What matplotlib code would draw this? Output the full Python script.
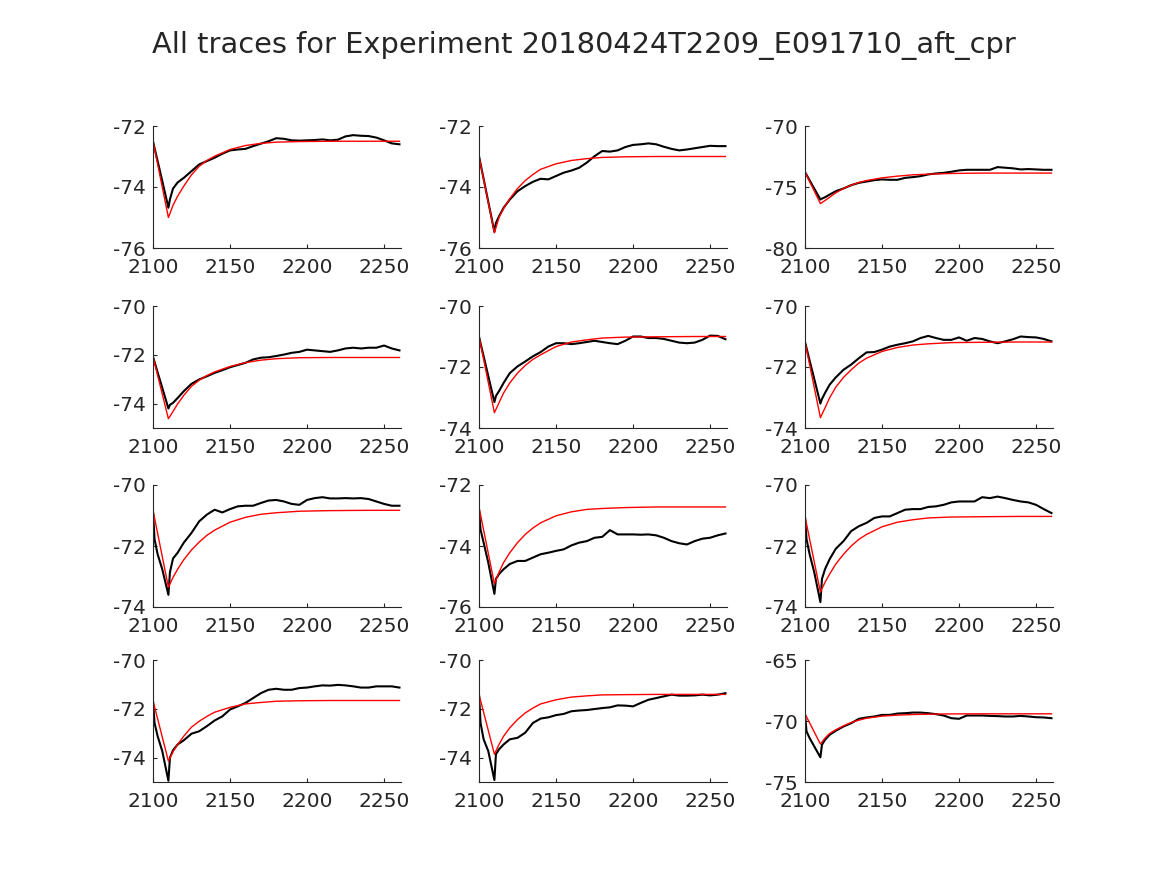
import matplotlib
matplotlib.use("Agg")
import matplotlib.pyplot as plt

plt.rcParams['font.family'] = ['DejaVu Sans']
plt.rcParams['axes.unicode_minus'] = False

TITLE = "All traces for Experiment 20180424T2209_E091710_aft_cpr"

# sample times for the recorded (black) traces
XB = [2100, 2101, 2103, 2106, 2110, 2111, 2113, 2116, 2120, 2125, 2130, 2135, 2140,
      2145, 2150, 2155, 2160, 2165, 2170, 2175, 2180, 2185, 2190, 2195, 2200, 2205,
      2210, 2215, 2220, 2225, 2230, 2235, 2240, 2245, 2250, 2255, 2260]
# sample times for the fitted (red) curves
XR = [2100, 2110, 2113, 2116, 2120, 2125, 2130, 2135, 2140, 2150, 2160, 2170, 2180,
      2195, 2215, 2240, 2260]

trace_1 = [-72.5, -72.72, -73.15, -73.8, -74.68, -74.4, -74.05, -73.85, -73.7, -73.48, -73.26, -73.15, -73.04,
           -72.91, -72.8, -72.77, -72.75, -72.66, -72.58, -72.5, -72.4, -72.42, -72.47, -72.48, -72.47, -72.46,
           -72.44, -72.47, -72.45, -72.34, -72.3, -72.32, -72.33, -72.38, -72.47, -72.57, -72.6]
fit_1 = [-72.5, -75.0, -74.6, -74.3, -73.97, -73.6, -73.32, -73.13, -72.99, -72.77, -72.64, -72.57, -72.53,
         -72.51, -72.5, -72.5, -72.5]

trace_2 = [-72.99, -73.24, -73.73, -74.48, -75.47, -75.18, -74.96, -74.68, -74.41, -74.14, -73.97, -73.83, -73.73,
           -73.75, -73.64, -73.53, -73.46, -73.37, -73.2, -72.99, -72.82, -72.84, -72.8, -72.69, -72.62, -72.6,
           -72.57, -72.6, -72.68, -72.75, -72.8, -72.77, -72.73, -72.69, -72.65, -72.66, -72.66]
fit_2 = [-73.0, -75.5, -75.0, -74.7, -74.38, -74.05, -73.79, -73.59, -73.42, -73.24, -73.13, -73.07, -73.03,
         -73.01, -73.0, -73.0, -73.0]

trace_3 = [-73.78, -74.0, -74.46, -75.13, -76.03, -75.95, -75.84, -75.62, -75.34, -75.12, -74.85, -74.66, -74.55,
           -74.44, -74.38, -74.41, -74.41, -74.25, -74.19, -74.11, -73.97, -73.89, -73.84, -73.75, -73.64, -73.59,
           -73.59, -73.59, -73.59, -73.37, -73.42, -73.47, -73.56, -73.53, -73.56, -73.59, -73.59]
fit_3 = [-73.78, -76.36, -76.11, -75.84, -75.48, -75.12, -74.85, -74.63, -74.47, -74.25, -74.11, -74.0, -73.95,
         -73.89, -73.86, -73.86, -73.86]

trace_4 = [-72.08, -72.29, -72.72, -73.35, -74.2, -74.05, -73.97, -73.77, -73.49, -73.19, -73.01, -72.88, -72.74,
           -72.63, -72.51, -72.42, -72.33, -72.19, -72.12, -72.1, -72.05, -71.99, -71.92, -71.88, -71.79, -71.82,
           -71.85, -71.88, -71.82, -71.74, -71.71, -71.74, -71.71, -71.71, -71.62, -71.74, -71.82]
fit_4 = [-72.08, -74.62, -74.32, -74.01, -73.66, -73.29, -73.04, -72.85, -72.7, -72.48, -72.32, -72.22, -72.16,
         -72.12, -72.11, -72.11, -72.11]

trace_5 = [-71.0, -71.22, -71.65, -72.29, -73.15, -72.95, -72.79, -72.52, -72.2, -71.98, -71.82, -71.65, -71.51,
           -71.33, -71.22, -71.22, -71.25, -71.22, -71.18, -71.14, -71.18, -71.22, -71.25, -71.14, -71.0, -71.0,
           -71.05, -71.05, -71.08, -71.14, -71.2, -71.22, -71.2, -71.11, -70.97, -70.98, -71.09]
fit_5 = [-71.0, -73.5, -73.17, -72.85, -72.52, -72.2, -71.95, -71.75, -71.6, -71.33, -71.18, -71.11, -71.05,
         -71.02, -71.01, -71.0, -71.0]

trace_6 = [-71.18, -71.38, -71.79, -72.39, -73.2, -73.05, -72.85, -72.58, -72.34, -72.09, -71.92, -71.71, -71.52,
           -71.51, -71.43, -71.33, -71.27, -71.22, -71.16, -71.05, -70.98, -71.05, -71.11, -71.11, -71.03, -71.14,
           -71.05, -71.08, -71.16, -71.22, -71.16, -71.09, -71.0, -71.02, -71.03, -71.08, -71.16]
fit_6 = [-71.18, -73.66, -73.34, -73.01, -72.66, -72.34, -72.09, -71.87, -71.71, -71.49, -71.36, -71.28, -71.24,
         -71.2, -71.19, -71.18, -71.18]

trace_7 = [-70.86, -71.78, -72.27, -72.76, -73.6, -72.86, -72.41, -72.22, -71.89, -71.57, -71.19, -70.97, -70.81,
           -70.9, -70.79, -70.7, -70.68, -70.68, -70.59, -70.51, -70.49, -70.54, -70.62, -70.65, -70.49, -70.43,
           -70.4, -70.44, -70.44, -70.43, -70.44, -70.43, -70.46, -70.54, -70.62, -70.68, -70.68]
fit_7 = [-70.83, -73.35, -73.03, -72.76, -72.45, -72.13, -71.87, -71.65, -71.48, -71.22, -71.06, -70.96, -70.91,
         -70.86, -70.84, -70.83, -70.83]

trace_8 = [-72.81, -73.46, -73.89, -74.54, -75.57, -75.08, -74.92, -74.76, -74.59, -74.49, -74.49, -74.38, -74.27,
           -74.22, -74.16, -74.11, -73.98, -73.89, -73.84, -73.73, -73.7, -73.48, -73.62, -73.62, -73.62, -73.63,
           -73.62, -73.65, -73.73, -73.84, -73.91, -73.95, -73.84, -73.76, -73.73, -73.65, -73.59]
fit_8 = [-72.72, -75.24, -74.86, -74.54, -74.22, -73.89, -73.62, -73.41, -73.24, -73.01, -72.88, -72.8, -72.77,
         -72.74, -72.72, -72.72, -72.72]

trace_9 = [-71.03, -71.78, -72.27, -72.86, -73.84, -73.08, -72.76, -72.43, -72.09, -71.84, -71.51, -71.35, -71.24,
           -71.08, -71.03, -71.03, -70.92, -70.81, -70.79, -70.79, -70.72, -70.7, -70.65, -70.57, -70.54, -70.54,
           -70.54, -70.4, -70.43, -70.38, -70.43, -70.49, -70.54, -70.57, -70.65, -70.79, -70.92]
fit_9 = [-71.03, -73.51, -73.19, -72.92, -72.59, -72.27, -72.0, -71.78, -71.62, -71.37, -71.22, -71.14, -71.08,
         -71.05, -71.04, -71.03, -71.03]

trace_10 = [-71.69, -72.58, -73.12, -73.73, -74.95, -74.0, -73.7, -73.46, -73.29, -73.02, -72.92, -72.71, -72.48,
            -72.31, -72.03, -71.9, -71.76, -71.56, -71.36, -71.22, -71.18, -71.22, -71.22, -71.15, -71.13, -71.08,
            -71.04, -71.05, -71.02, -71.04, -71.08, -71.13, -71.13, -71.08, -71.08, -71.08, -71.13]
fit_10 = [-71.67, -74.14, -73.76, -73.46, -73.12, -72.75, -72.51, -72.31, -72.14, -71.94, -71.8, -71.74, -71.69,
          -71.67, -71.66, -71.66, -71.66]

trace_11 = [-71.42, -72.58, -73.25, -73.73, -74.92, -73.86, -73.66, -73.46, -73.25, -73.19, -72.98, -72.58, -72.4,
            -72.35, -72.26, -72.21, -72.1, -72.07, -72.05, -72.01, -71.97, -71.94, -71.86, -71.87, -71.9, -71.76,
            -71.63, -71.56, -71.49, -71.42, -71.46, -71.46, -71.45, -71.42, -71.45, -71.42, -71.36]
fit_11 = [-71.41, -73.86, -73.46, -73.12, -72.78, -72.44, -72.17, -71.97, -71.8, -71.63, -71.52, -71.47, -71.43,
          -71.42, -71.41, -71.41, -71.41]

trace_12 = [-69.5, -70.86, -71.4, -72.08, -72.98, -71.95, -71.54, -71.13, -70.8, -70.45, -70.18, -69.82, -69.71,
            -69.63, -69.5, -69.5, -69.39, -69.36, -69.31, -69.31, -69.36, -69.44, -69.55, -69.77, -69.82, -69.55,
            -69.55, -69.55, -69.58, -69.6, -69.63, -69.63, -69.58, -69.63, -69.69, -69.71, -69.77]
fit_12 = [-69.41, -71.89, -71.4, -71.02, -70.72, -70.4, -70.12, -69.93, -69.77, -69.6, -69.52, -69.47, -69.44,
          -69.42, -69.41, -69.41, -69.41]

traces = [trace_1, trace_2, trace_3, trace_4, trace_5, trace_6,
          trace_7, trace_8, trace_9, trace_10, trace_11, trace_12]
fits = [fit_1, fit_2, fit_3, fit_4, fit_5, fit_6,
        fit_7, fit_8, fit_9, fit_10, fit_11, fit_12]

y_limits = [(-76, -72), (-76, -72), (-80, -70),
            (-75, -70), (-74, -70), (-74, -70),
            (-74, -70), (-76, -72), (-74, -70),
            (-75, -70), (-75, -70), (-75, -65)]
y_ticks = [[-76, -74, -72], [-76, -74, -72], [-80, -75, -70],
           [-74, -72, -70], [-74, -72, -70], [-74, -72, -70],
           [-74, -72, -70], [-76, -74, -72], [-74, -72, -70],
           [-74, -72, -70], [-74, -72, -70], [-75, -70, -65]]
x_ticks = [2100, 2150, 2200, 2250]

TXT = '#262626'
W, H = 1167, 875
fig = plt.figure(figsize=(W / 100, H / 100), dpi=100)

col_left = [153, 479, 805]
row_top = [126, 306, 485, 660]
ax_w, ax_h = 248, 122

for i in range(12):
    r, c = divmod(i, 3)
    left = col_left[c] / W
    bottom = 1 - (row_top[r] + ax_h) / H
    ax = fig.add_axes([left, bottom, ax_w / W, ax_h / H])
    ax.plot(XB, traces[i], color='black', lw=1.5, solid_joinstyle='round')
    ax.plot(XR, fits[i], color='red', lw=1.0)
    ax.set_xlim(2100, 2261)
    ax.set_ylim(*y_limits[i])
    ax.set_xticks(x_ticks)
    ax.set_yticks(y_ticks[i])
    for s in ['top', 'right']:
        ax.spines[s].set_visible(False)
    for s in ['left', 'bottom']:
        ax.spines[s].set_color(TXT)
        ax.spines[s].set_linewidth(0.8)
    ax.tick_params(direction='in', length=3, width=0.8, colors=TXT,
                   labelsize=14.5)
    ax.tick_params(axis='x', pad=7)
    ax.tick_params(axis='y', pad=5)

fig.text(0.5, 1 - 45 / H, TITLE, ha='center', va='center', fontsize=20.8, color=TXT)

fig.savefig('out.png', dpi=100)
